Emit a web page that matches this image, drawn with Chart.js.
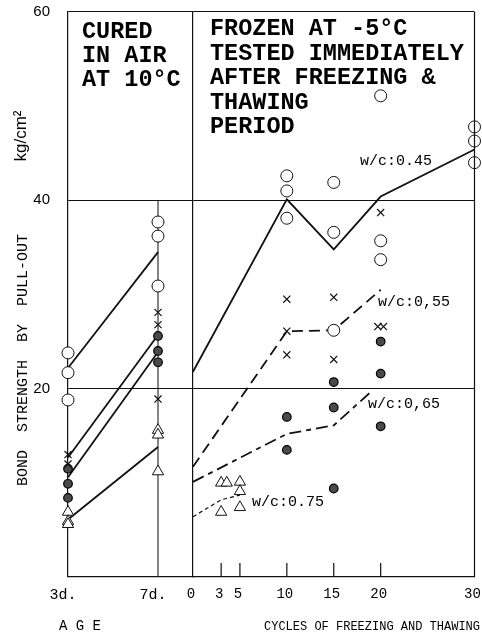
<!DOCTYPE html>
<html><head><meta charset="utf-8">
<script src="https://cdn.jsdelivr.net/npm/chart.js@4.4.1/dist/chart.umd.min.js"></script>
<style>
html,body{margin:0;padding:0;background:#fff;}
#wrap{position:relative;width:482px;height:637px;overflow:hidden;}
canvas{position:absolute;left:0;top:0;}
</style></head><body>
<div id="wrap"><canvas id="age" width="482" height="637"></canvas><canvas id="cyc" width="482" height="637"></canvas></div>
<script>
// ---------- data ----------
const yTicks = [0, 20, 40, 60];
const ageTicks = [3, 7];
const ageTickLabels = ['3d.', '7d.'];
const cycleTicks = [0, 3, 5, 10, 15, 20, 30];
const cycleMarkTicks = [3, 5, 10, 15, 20];

// AGE panel (cured in air at 10 C)
const ageLineX = [3, 7];
const ageLine045 = [22.2, 34.5];
const ageLine055 = [12.7, 25.7];
const ageLine065 = [10.6, 23.9];
const ageLine075 = [6.1, 13.8];

const ageCircleX = [3, 3, 3, 7, 7, 7];
const ageCircleY = [23.8, 21.7, 18.8, 37.7, 36.2, 30.9];
const ageCrossX = [3, 3, 7, 7, 7];
const ageCrossY = [13.0, 12.0, 28.1, 26.8, 18.9];
const ageDotX = [3, 3, 3, 7, 7, 7];
const ageDotY = [11.5, 9.9, 8.4, 25.6, 24.0, 22.8];
const ageTriX = [3, 3, 3, 7, 7, 7];
const ageTriY = [6.9, 5.9, 5.6, 15.6, 15.1, 11.2];

// CYCLES panel (frozen at -5 C)
const cyc045X = [0, 10, 15, 20, 30];
const cyc045Y = [21.8, 40.1, 34.8, 40.4, 45.4];
const cyc055X = [0, 10, 15, 20];
const cyc055Y = [11.7, 26.1, 26.2, 30.5];
const cyc065X = [0, 10, 15, 19];
const cyc065Y = [10.1, 15.2, 16.1, 19.7];
const cyc075X = [0, 3, 5];
const cyc075Y = [6.4, 8.2, 8.7];

const cycCircleX = [10, 10, 10, 15, 15, 15, 20, 20, 20, 30, 30, 30];
const cycCircleY = [42.6, 41.0, 38.1, 41.9, 36.6, 26.2, 51.1, 35.7, 33.7, 47.8, 46.3, 44.0];
const cycCrossX = [10, 10, 10, 15, 15, 20, 19.7, 20.3];
const cycCrossY = [29.5, 26.1, 23.6, 29.7, 23.1, 38.7, 26.6, 26.6];
const cycDotX = [10, 10, 15, 15, 15, 20, 20, 20];
const cycDotY = [17.0, 13.5, 20.7, 18.0, 9.4, 25.0, 21.6, 16.0];
const cycTriX = [3, 3.6, 3, 5, 5, 5];
const cycTriY = [10.0, 10.0, 6.9, 10.1, 9.1, 7.4];

// ---------- helpers ----------
Chart.defaults.color = '#000';
Chart.defaults.animation = false;
const pts = (xs, ys) => xs.map((x, i) => ({x: x, y: ys[i]}));
const INK = '#111';
const noPad = s => { s.paddingTop = 0; s.paddingBottom = 0; s.paddingLeft = 0; s.paddingRight = 0; };

function lineDs(xs, ys, dash, width) {
  return {type: 'scatter', data: pts(xs, ys), showLine: true, borderColor: INK,
    borderWidth: width || 1.8, borderDash: dash || [], pointRadius: 0, fill: false,
    tension: 0, order: 2, clip: false};
}
function markDs(xs, ys, kind) {
  const base = {type: 'scatter', data: pts(xs, ys), showLine: false, order: 0, clip: false,
    pointBorderColor: INK, pointBorderWidth: 1};
  if (kind === 'circle') return Object.assign(base, {pointStyle: 'circle', pointRadius: 6, pointBackgroundColor: '#fff'});
  if (kind === 'cross') return Object.assign(base, {pointStyle: 'crossRot', pointRadius: 5, pointBorderWidth: 1.2});
  if (kind === 'dot') return Object.assign(base, {pointStyle: 'circle', pointRadius: 4.3, pointBackgroundColor: '#4a4a4a', pointBorderColor: '#000', pointBorderWidth: 1.2});
  return Object.assign(base, {pointStyle: 'triangle', pointRadius: 6.5, pointBackgroundColor: '#fff'});
}
function txt(ctx, s, x, y, font, align, rot) {
  ctx.save();
  ctx.font = font;
  ctx.fillStyle = '#000';
  ctx.textAlign = align || 'left';
  ctx.textBaseline = 'alphabetic';
  ctx.translate(x, y);
  if (rot) ctx.rotate(rot);
  ctx.fillText(s, 0, 0);
  ctx.restore();
}
const commonPlugins = {legend: {display: false}, tooltip: {enabled: false}};

// ---------- AGE chart (left panel) ----------
const agePlugin = {
  id: 'agePlugin',
  beforeDatasetsDraw(chart) {
    const {ctx, scales: {x, y}} = chart;
    ctx.save();
    ctx.strokeStyle = '#222';
    ctx.lineWidth = 1.1;
    ctx.beginPath();
    ctx.moveTo(x.getPixelForValue(7), y.getPixelForValue(0));
    ctx.lineTo(x.getPixelForValue(7), y.getPixelForValue(40));
    ctx.stroke();
    ctx.restore();
  }
};

new Chart(document.getElementById('age'), {
  type: 'scatter',
  data: {datasets: [
    markDs(ageCircleX, ageCircleY, 'circle'),
    markDs(ageCrossX, ageCrossY, 'cross'),
    markDs(ageDotX, ageDotY, 'dot'),
    markDs(ageTriX, ageTriY, 'tri'),
    lineDs(ageLineX, ageLine045),
    lineDs(ageLineX, ageLine055),
    lineDs(ageLineX, ageLine065),
    lineDs(ageLineX, ageLine075)
  ]},
  options: {
    responsive: false,
    layout: {padding: {top: 12, right: 289, left: 0, bottom: 0}},
    plugins: commonPlugins,
    scales: {
      x: {type: 'linear', min: 3, max: 3 + 125 * 4 / 90,
        afterFit: s => { s.height = 60; noPad(s); },
        afterBuildTicks: s => { s.ticks = ageTicks.map(v => ({value: v})); },
        ticks: {padding: 9, labelOffset: -5, font: {family: 'Liberation Mono', size: 15},
          callback: v => ageTickLabels[ageTicks.indexOf(v)]},
        grid: {display: false, drawTicks: false},
        border: {display: true, color: INK, width: 1.2}},
      y: {min: 0, max: 60,
        afterFit: s => { s.width = 68; noPad(s); },
        afterBuildTicks: s => { s.ticks = yTicks.map(v => ({value: v})); },
        ticks: {padding: 18, font: {family: 'Liberation Sans', size: 15}, callback: v => v === 0 ? '' : String(v)},
        grid: {color: INK, lineWidth: 1.1, drawTicks: false},
        border: {display: true, color: INK, width: 1.2}}
    }
  },
  plugins: [agePlugin]
});

// ---------- CYCLES chart (right panel) + annotations ----------
const cycPlugin = {
  id: 'cycPlugin',
  afterDraw(chart) {
    const {ctx, chartArea: a, scales: {x, y}} = chart;
    ctx.save();
    ctx.strokeStyle = INK;
    ctx.lineWidth = 1.2;
    ctx.beginPath();
    ctx.moveTo(a.right, a.top); ctx.lineTo(a.right, a.bottom);
    cycleMarkTicks.forEach(v => {
      const px = x.getPixelForValue(v);
      ctx.moveTo(px, a.bottom); ctx.lineTo(px, a.bottom - 14);
    });
    ctx.stroke();
    ctx.restore();

    const big = 'bold 23.5px "Liberation Mono"';
    ['CURED', 'IN AIR', 'AT 10°C'].forEach((s, i) => txt(ctx, s, 82, 38 + i * 24, big));
    ['FROZEN AT -5°C', 'TESTED IMMEDIATELY', 'AFTER FREEZING &', 'THAWING', 'PERIOD']
      .forEach((s, i) => txt(ctx, s, 210, 35 + i * 24.5, big));

    const lab = '15px "Liberation Mono"';
    txt(ctx, 'w/c:0.45', 360, 165, lab);
    txt(ctx, 'w/c:0,55', 378, 306, lab);
    txt(ctx, 'w/c:0,65', 368, 408, lab);
    txt(ctx, 'w/c:0.75', 252, 506, lab);

    txt(ctx, 'BOND  STRENGTH  BY  PULL-OUT', 27, 360, '15px "Liberation Mono"', 'center', -Math.PI / 2);
    txt(ctx, 'kg/cm²', 26, 136, '17px "Liberation Sans"', 'center', -Math.PI / 2);
    txt(ctx, 'A G E', 80, 630, '14px "Liberation Mono"', 'center');
    txt(ctx, 'CYCLES OF FREEZING AND THAWING', 372, 630, '12px "Liberation Mono"', 'center');
  }
};

new Chart(document.getElementById('cyc'), {
  type: 'scatter',
  data: {datasets: [
    markDs(cycCircleX, cycCircleY, 'circle'),
    markDs(cycCrossX, cycCrossY, 'cross'),
    markDs(cycDotX, cycDotY, 'dot'),
    markDs(cycTriX, cycTriY, 'tri'),
    lineDs(cyc045X, cyc045Y),
    lineDs(cyc055X, cyc055Y, [11, 6]),
    lineDs(cyc065X, cyc065Y, [12, 5, 5, 5]),
    lineDs(cyc075X, cyc075Y, [4, 3], 1.2)
  ]},
  options: {
    responsive: false,
    layout: {padding: {top: 12, right: 7, left: 193, bottom: 0}},
    plugins: commonPlugins,
    scales: {
      x: {type: 'linear', min: 0, max: 30,
        afterFit: s => { s.height = 60; noPad(s); },
        afterBuildTicks: s => { s.ticks = cycleTicks.map(v => ({value: v})); },
        ticks: {padding: 9, labelOffset: -2, font: {family: 'Liberation Mono', size: 14}, autoSkip: false, maxRotation: 0},
        grid: {display: false, drawTicks: false},
        border: {display: true, color: INK, width: 1.2}},
      y: {min: 0, max: 60,
        afterFit: s => { s.width = 0; noPad(s); },
        afterBuildTicks: s => { s.ticks = yTicks.map(v => ({value: v})); },
        ticks: {display: false},
        grid: {color: INK, lineWidth: 1.1, drawTicks: false},
        border: {display: true, color: INK, width: 1.2}}
    }
  },
  plugins: [cycPlugin]
});
</script>
</body></html>
